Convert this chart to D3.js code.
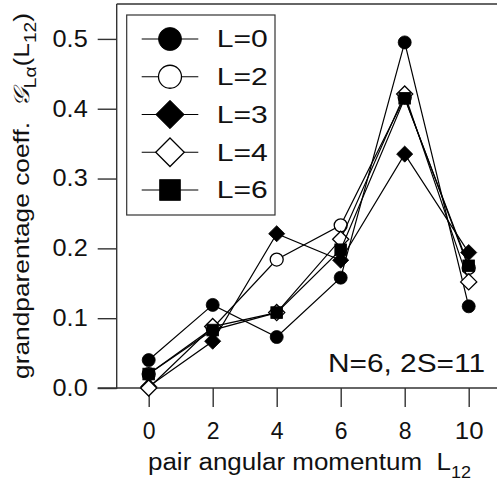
<!DOCTYPE html>
<html>
<head>
<meta charset="utf-8">
<script src="https://cdn.jsdelivr.net/npm/d3@7"></script>
<style>
  body { margin: 0; background: #fff; }
  svg { display: block; font-family: Arial, "Liberation Sans", sans-serif; }
  .pre { white-space: pre; }
</style>
</head>
<body>
<div id="chart"></div>
<script>
// data
const pairL = [0, 2, 4, 6, 8, 10];
const seriesNames = ['L=0', 'L=2', 'L=3', 'L=4', 'L=6'];
const valsL0 = [0.040, 0.119, 0.073, 0.158, 0.495, 0.117];
const valsL2 = [0.020, 0.086, 0.184, 0.233, 0.416, 0.172];
const valsL3 = [0.002, 0.067, 0.221, 0.183, 0.335, 0.194];
const valsL4 = [0.000, 0.088, 0.108, 0.213, 0.421, 0.152];
const valsL6 = [0.020, 0.083, 0.108, 0.198, 0.415, 0.175];
const markers = ['circleFill', 'circleOpen', 'diamondFill', 'diamondOpen', 'squareFill'];
const yTicks = [0.0, 0.1, 0.2, 0.3, 0.4, 0.5];
const xTicks = [0, 2, 4, 6, 8, 10];

const allVals = [valsL0, valsL2, valsL3, valsL4, valsL6];
const series = seriesNames.map((name, i) => ({
  name,
  marker: markers[i],
  points: pairL.map((x, j) => ({ x, y: allVals[i][j] }))
}));

const width = 497;
const height = 482;

const x = d3.scaleLinear().domain([-1, 11]).range([116.7, 500.7]);
const y = d3.scaleLinear().domain([0, 0.55]).range([388, 4]);

const svg = d3.select('#chart').append('svg')
  .attr('width', width)
  .attr('height', height);

// the original font runs wider than Arial, so stretch text to its measured width
const stretch = (sel, k) => {
  sel.each(function () {
    const w = this.getComputedTextLength();
    d3.select(this).attr('textLength', w * k).attr('lengthAdjust', 'spacingAndGlyphs');
  });
};

// marker drawing
const drawMarker = (sel, kind, s) => {
  if (kind.startsWith('circle')) {
    sel.append('circle').attr('r', s * 0.5);
  } else if (kind.startsWith('diamond')) {
    const h = s * 0.62;
    sel.append('path').attr('d', `M0,${-h}L${h},0L0,${h}L${-h},0Z`);
  } else {
    const h = s * 0.45;
    sel.append('rect').attr('x', -h).attr('y', -h).attr('width', 2 * h).attr('height', 2 * h);
  }
  const open = kind.endsWith('Open');
  sel.select(':last-child')
    .attr('fill', open ? '#fff' : '#000')
    .attr('stroke', '#000')
    .attr('stroke-width', open ? 1.3 : 0.8);
};

// frame
const frameColor = '#333';
svg.append('line')
  .attr('x1', x(-1)).attr('x2', width + 2)
  .attr('y1', y(0.55)).attr('y2', y(0.55))
  .attr('stroke', frameColor).attr('stroke-width', 1.4);
svg.append('line')
  .attr('x1', x(-1)).attr('x2', x(-1))
  .attr('y1', y(0.55)).attr('y2', y(0) + 1)
  .attr('stroke', frameColor).attr('stroke-width', 1.4);

// y axis
const yAxis = d3.axisLeft(y)
  .tickValues(yTicks)
  .tickFormat(d3.format('.1f'))
  .tickSize(19)
  .tickPadding(10);
const gy = svg.append('g')
  .attr('transform', `translate(${x(-1)},0)`)
  .call(yAxis);
gy.select('.domain').remove();
gy.selectAll('line').attr('stroke', frameColor).attr('stroke-width', 1.4);
gy.selectAll('text').attr('font-size', 23).attr('fill', '#111')
  .attr('font-family', 'Arial, "Liberation Sans", sans-serif');
stretch(gy.selectAll('text'), 1.1);

// x axis
const xAxis = d3.axisBottom(x)
  .tickValues(xTicks)
  .tickFormat(d3.format('d'))
  .tickSize(19)
  .tickPadding(16);
const gx = svg.append('g')
  .attr('transform', `translate(0,${y(0)})`)
  .call(xAxis);
gx.select('.domain').remove();
gx.selectAll('line').attr('stroke', frameColor).attr('stroke-width', 1.4);
gx.selectAll('text').attr('font-size', 23).attr('fill', '#111')
  .attr('font-family', 'Arial, "Liberation Sans", sans-serif');
stretch(gx.selectAll('text').filter(d => d >= 10), 1.12);

// x baseline (extends left as the 0.0 tick)
svg.append('line')
  .attr('x1', x(-1) - 19).attr('x2', width + 2)
  .attr('y1', y(0)).attr('y2', y(0))
  .attr('stroke', frameColor).attr('stroke-width', 1.4);

// axis titles
const xt = svg.append('text')
  .attr('class', 'pre')
  .attr('x', 148).attr('y', 470)
  .attr('font-size', 23).attr('fill', '#111')
  .attr('textLength', 323).attr('lengthAdjust', 'spacingAndGlyphs');
xt.append('tspan').text('pair angular momentum  L');
xt.append('tspan').attr('font-size', 16).attr('dy', 8).text('12');

const yt = svg.append('text')
  .attr('class', 'pre')
  .attr('transform', 'translate(29,379) rotate(-90)')
  .attr('font-size', 22).attr('fill', '#111')
  .attr('textLength', 366).attr('lengthAdjust', 'spacingAndGlyphs');
yt.append('tspan').text('grandparentage coeff.  ');
yt.append('tspan').attr('font-family', '"DejaVu Serif", serif').attr('font-style', 'italic').text('𝒢');
yt.append('tspan').attr('font-size', 16).attr('dy', 7).text('Lα');
yt.append('tspan').attr('dy', -7).text('(L');
yt.append('tspan').attr('font-size', 16).attr('dy', 7).text('12');
yt.append('tspan').attr('dy', -7).text(')');

// annotation
svg.append('text')
  .attr('x', 328).attr('y', 372)
  .attr('font-size', 25).attr('fill', '#111')
  .attr('textLength', 157).attr('lengthAdjust', 'spacingAndGlyphs')
  .text('N=6, 2S=11');

// series
const line = d3.line().x(d => x(d.x)).y(d => y(d.y));
series.forEach(s => {
  const g = svg.append('g');
  g.append('path')
    .datum(s.points)
    .attr('d', line)
    .attr('fill', 'none')
    .attr('stroke', '#000')
    .attr('stroke-width', 1.2);
  s.points.forEach(p => {
    const m = g.append('g').attr('transform', `translate(${x(p.x)},${y(p.y)})`);
    drawMarker(m, s.marker, 13);
  });
});

// legend
const legend = svg.append('g');
legend.append('rect')
  .attr('x', 126.7).attr('y', 15)
  .attr('width', 148.3).attr('height', 200)
  .attr('fill', '#fff').attr('stroke', frameColor).attr('stroke-width', 1.2);
const legY = d3.scalePoint().domain(seriesNames).range([39, 190]);
series.forEach(s => {
  const row = legend.append('g').attr('transform', `translate(0,${legY(s.name)})`);
  row.append('line')
    .attr('x1', 141.7).attr('x2', 198.3)
    .attr('stroke', '#000').attr('stroke-width', 1.2);
  const m = row.append('g').attr('transform', 'translate(170,0)');
  drawMarker(m, s.marker, 23);
  row.append('text')
    .attr('x', 216.7).attr('dy', '0.36em')
    .attr('font-size', 23).attr('fill', '#111')
    .attr('textLength', 51).attr('lengthAdjust', 'spacingAndGlyphs')
    .text(s.name);
});
</script>
</body>
</html>
